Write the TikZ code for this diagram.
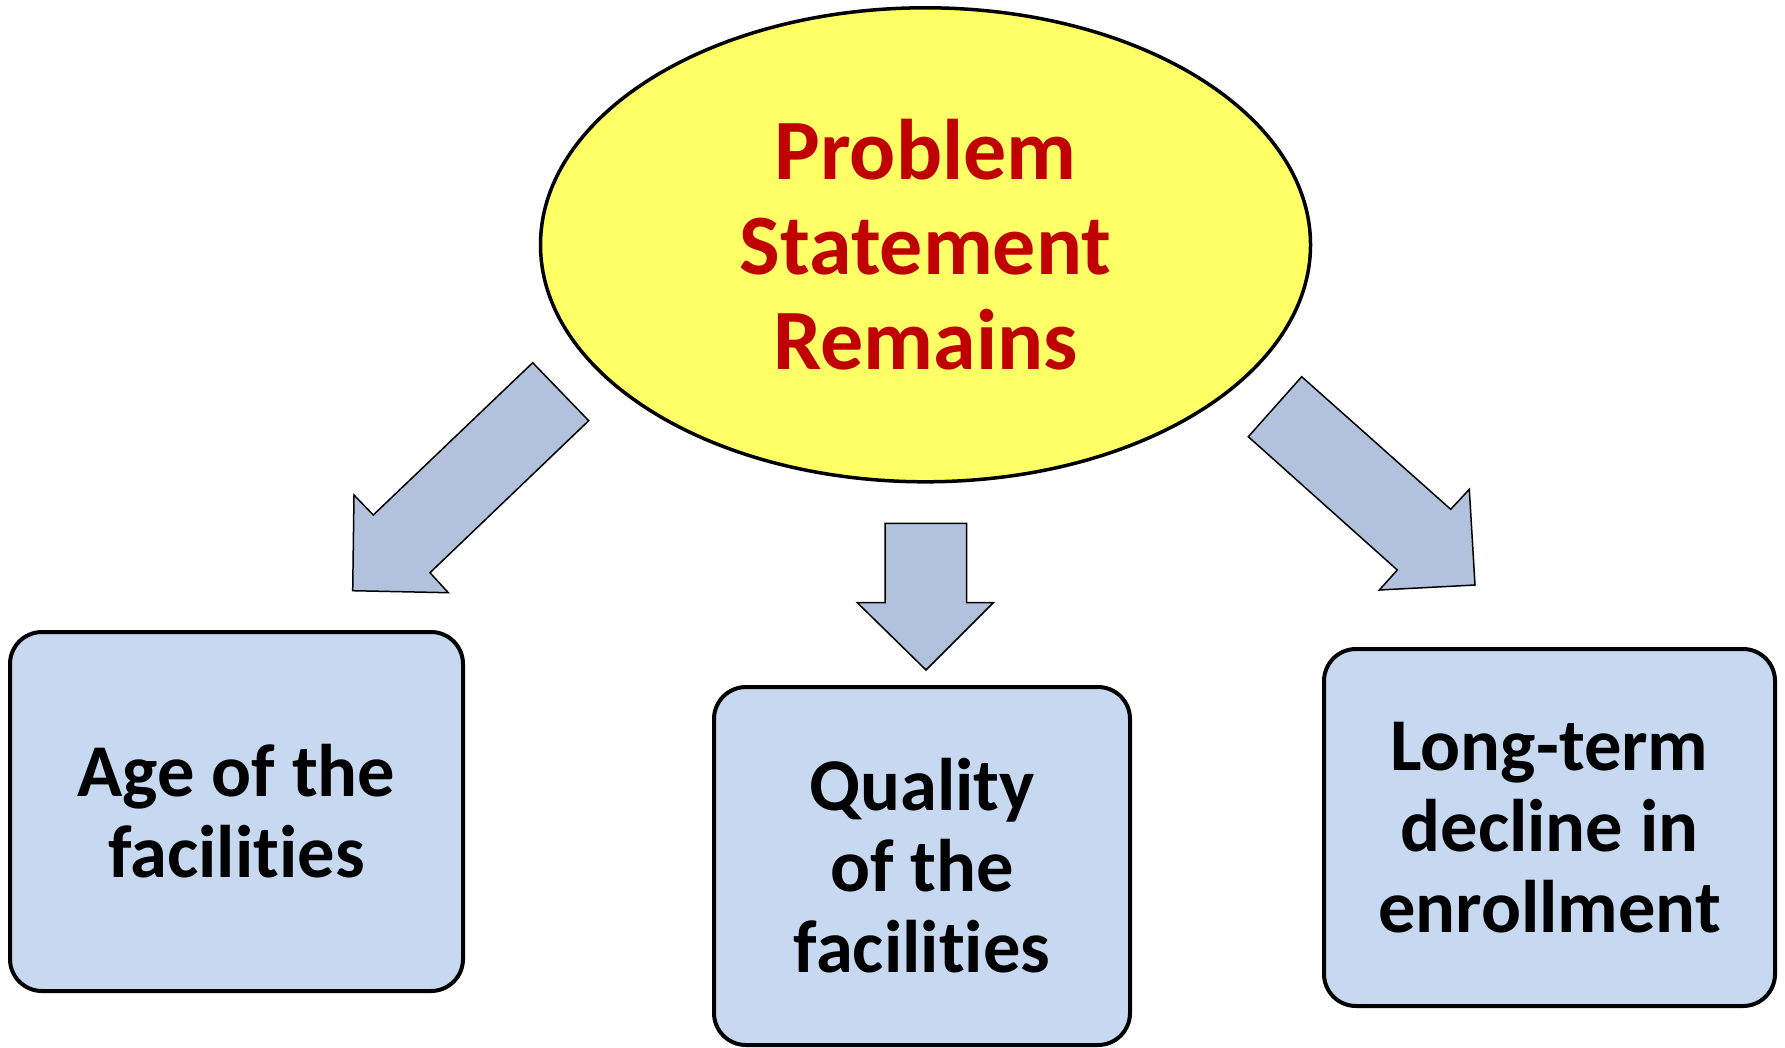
\documentclass[tikz,border=0pt]{standalone}
\usepackage{fontspec}
\setmainfont{Carlito}[Ligatures={NoCommon,NoContextual}]
\usetikzlibrary{shapes.geometric}
\definecolor{probyellow}{HTML}{FFFF66}
\definecolor{probred}{HTML}{C00000}
\definecolor{boxblue}{HTML}{C6D9F1}
\definecolor{arrowblue}{HTML}{B2C2DD}
\tikzset{
  problem/.style={ellipse, draw=black, line width=3.5pt, fill=probyellow, inner sep=0pt,
    minimum width=770pt, minimum height=474pt, text=probred, align=center,
    font=\bfseries\fontsize{86}{95}\selectfont},
  factor/.style={rectangle, rounded corners=32pt, draw=black, line width=4pt, fill=boxblue,
    inner sep=0pt, align=center, font=\bfseries\fontsize{74.5}{81}\selectfont},
  blockarrow/.style={draw=black, line width=1.5pt, fill=arrowblue, line join=miter}
}
\begin{document}
\begin{tikzpicture}[x=1pt, y=-1pt]
    \useasboundingbox (0,0) rectangle (1785,1047);
    \node[problem] (stmt) at (925.5,244.8) {Problem\\Statement\\Remains};
    % the three factors
    \node[factor, minimum width=453pt, minimum height=359pt] (age) at (236.5,811.5) {Age of the\\facilities};
    \node[factor, minimum width=416pt, minimum height=358pt] (quality) at (922,866) {Quality\\of the\\facilities};
    \node[factor, minimum width=451pt, minimum height=357pt] (decline) at (1549.5,827.5) {Long-term\\decline in\\enrollment};
    % block arrows
    \draw[blockarrow] (532.7,362.7) -- (588.7,420.7) -- (430,572.7) -- (448.3,592.7)
        -- (352.7,590.7) -- (354,495) -- (373.3,515) -- cycle;
    \draw[blockarrow] (885,523.3) -- (966.7,523.3) -- (966.7,602.7) -- (993.3,602.7)
        -- (926,670) -- (857.3,602.7) -- (885,602.7) -- cycle;
    \draw[blockarrow] (1301.7,376.7) -- (1248.3,436.7) -- (1397.3,570) -- (1379.3,590)
        -- (1475,585) -- (1469.3,489.3) -- (1450.7,509.3) -- cycle;
\end{tikzpicture}
\end{document}
